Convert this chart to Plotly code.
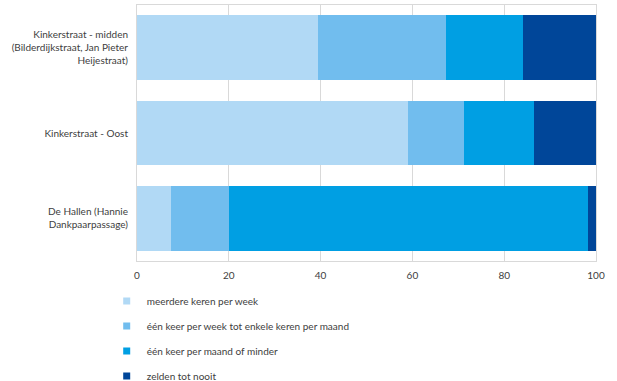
import plotly.graph_objects as go

# Locations (top to bottom) and visiting-frequency shares in percent
locaties = [
    "Kinkerstraat - midden<br>(Bilderdijkstraat, Jan Pieter<br>Heijestraat)",
    "Kinkerstraat - Oost",
    "De Hallen (Hannie<br>Dankpaarpassage)",
]
categorieen = [
    "meerdere keren per week",
    "één keer per week tot enkele keren per maand",
    "één keer per maand of minder",
    "zelden tot nooit",
]
meerdere_keren_per_week = [39.4, 59.0, 7.3]
een_keer_per_week = [27.9, 12.3, 12.7]
een_keer_per_maand = [16.9, 15.1, 78.2]
zelden_tot_nooit = [15.8, 13.6, 1.8]

kleuren = ["#b1d9f5", "#71bdee", "#009fe3", "#004699"]
reeksen = [meerdere_keren_per_week, een_keer_per_week, een_keer_per_maand, zelden_tot_nooit]

font_family = "Lato, 'Open Sans', sans-serif"
fig = go.Figure()

for i, (naam, waarden, kleur) in enumerate(zip(categorieen, reeksen, kleuren)):
    fig.add_trace(go.Bar(
        y=locaties, x=waarden, name=naam, orientation="h",
        marker=dict(color=kleur, line=dict(width=0)),
        showlegend=False,
    ))
    # small square legend entries
    fig.add_trace(go.Scatter(
        x=[None], y=[None], mode="markers", name=naam,
        marker=dict(symbol="square", size=7, color=kleur),
        legendgroup=f"g{i}", showlegend=True,
    ))

fig.update_layout(
    barmode="stack",
    bargap=0.24,
    width=617, height=381,
    margin=dict(l=137, r=21, t=5, b=120, pad=0, autoexpand=False),
    paper_bgcolor="white",
    plot_bgcolor="white",
    font=dict(family=font_family, size=10, color="#404040"),
    legend=dict(
        orientation="v",
        x=-0.066, xanchor="left",
        y=-0.1, yanchor="top",
        traceorder="grouped",
        tracegroupgap=6,
        font=dict(size=10, color="#404040"),
        itemwidth=30,
        bgcolor="rgba(0,0,0,0)",
    ),
)
fig.update_xaxes(
    range=[0, 100], tickvals=[0, 20, 40, 60, 80, 100],
    showgrid=True, gridcolor="#d9d9d9", gridwidth=1,
    showline=True, linecolor="#d9d9d9", mirror=True,
    zeroline=False, ticks="", ticklabelstandoff=5,
    tickfont=dict(size=10, color="#404040"),
)
fig.update_yaxes(
    categoryorder="array", categoryarray=locaties, autorange="reversed",
    showgrid=False, showline=True, linecolor="#d9d9d9", mirror=True,
    ticks="", ticklabelstandoff=6,
    tickfont=dict(size=10, color="#404040"),
)

fig.write_html("out.html")
